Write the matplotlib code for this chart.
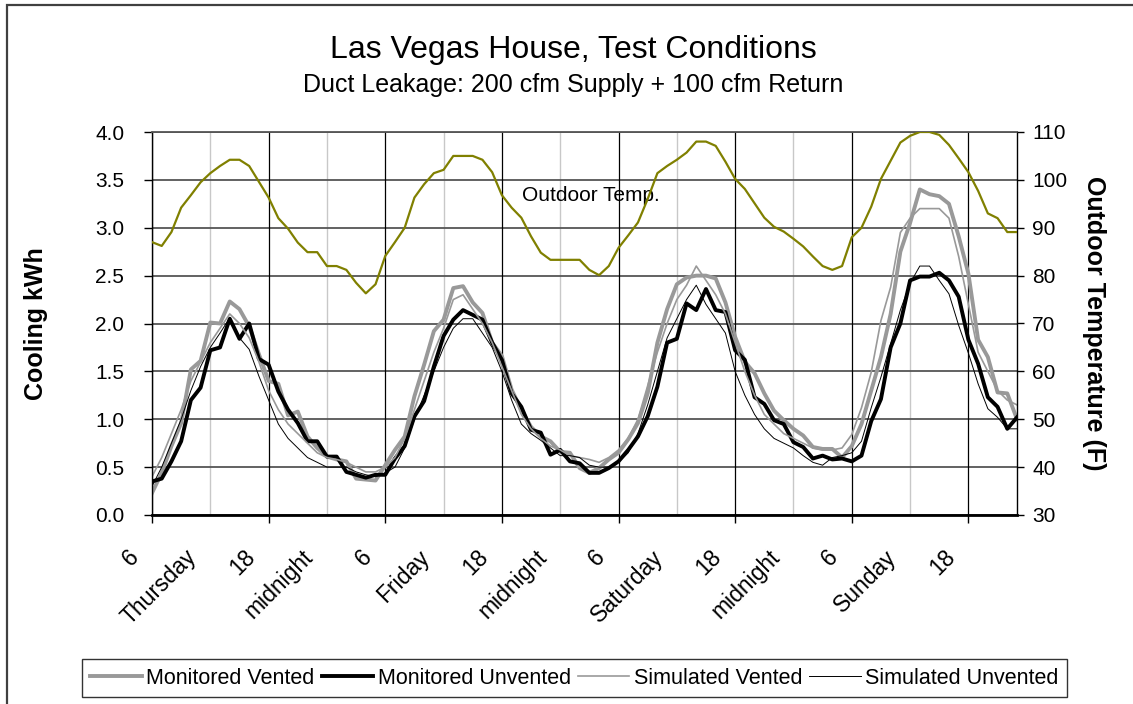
import matplotlib
matplotlib.use('Agg')
import matplotlib.pyplot as plt
from matplotlib.patches import Rectangle
from matplotlib.transforms import ScaledTranslation
import numpy as np

plt.rcParams['font.family'] = ['Liberation Sans', 'DejaVu Sans']

# hourly data, starting 6 am Thursday
hours = np.arange(90)
tick_labels = ['6', 'Thursday', '18', 'midnight', '6', 'Friday', '18', 'midnight',
               '6', 'Saturday', '18', 'midnight', '6', 'Sunday', '18']

outdoor_temp = [87.0, 86.2, 89.1, 94.2, 96.8, 99.5, 101.4, 102.9, 104.2, 104.2,
                102.9, 99.6, 96.3, 92.0, 89.8, 86.9, 84.9, 84.9, 82.0, 82.0,
                81.2, 78.5, 76.3, 78.2, 84.1, 87.0, 90.0, 96.3, 99.1, 101.4,
                102.1, 105.0, 105.0, 105.0, 104.2, 101.6, 96.8, 94.2, 92.1, 88.2,
                84.8, 83.3, 83.3, 83.3, 83.3, 81.2, 80.1, 82.0, 85.8, 88.4,
                91.1, 96.0, 101.4, 102.9, 104.2, 105.7, 108.0, 108.0, 107.1, 103.8,
                100.2, 98.1, 95.1, 92.1, 90.2, 89.2, 87.7, 86.1, 84.0, 82.0,
                81.2, 82.0, 88.0, 90.0, 94.4, 100.2, 104.0, 107.8, 109.2, 110.0,
                110.0, 109.4, 107.3, 104.5, 101.6, 97.7, 93.0, 92.0, 89.1, 89.1]

monitored_vented = [0.23, 0.44, 0.72, 0.96, 1.52, 1.61, 2.01, 2.00, 2.23, 2.15,
                    1.97, 1.68, 1.40, 1.37, 1.04, 1.08, 0.82, 0.70, 0.61, 0.58,
                    0.56, 0.38, 0.37, 0.36, 0.52, 0.68, 0.82, 1.24, 1.57, 1.92,
                    2.04, 2.37, 2.39, 2.22, 2.11, 1.80, 1.66, 1.31, 1.10, 0.92,
                    0.82, 0.77, 0.66, 0.65, 0.49, 0.44, 0.49, 0.58, 0.65, 0.79,
                    0.96, 1.27, 1.80, 2.15, 2.41, 2.48, 2.50, 2.50, 2.47, 2.22,
                    1.86, 1.60, 1.48, 1.27, 1.09, 0.99, 0.90, 0.83, 0.71, 0.69,
                    0.69, 0.60, 0.72, 0.95, 1.30, 1.65, 2.10, 2.75, 3.05, 3.40,
                    3.35, 3.33, 3.25, 2.91, 2.52, 1.83, 1.65, 1.28, 1.27, 1.00]

monitored_unvented = [0.35, 0.38, 0.56, 0.77, 1.20, 1.33, 1.72, 1.75, 2.05, 1.84,
                      2.00, 1.63, 1.57, 1.29, 1.10, 0.96, 0.77, 0.77, 0.61, 0.61,
                      0.45, 0.42, 0.39, 0.42, 0.42, 0.59, 0.72, 1.03, 1.19, 1.55,
                      1.87, 2.04, 2.14, 2.09, 2.04, 1.80, 1.62, 1.27, 1.13, 0.89,
                      0.86, 0.63, 0.68, 0.56, 0.54, 0.44, 0.44, 0.49, 0.56, 0.68,
                      0.82, 1.03, 1.34, 1.80, 1.84, 2.21, 2.14, 2.36, 2.14, 2.12,
                      1.72, 1.62, 1.23, 1.16, 0.99, 0.95, 0.76, 0.71, 0.59, 0.62,
                      0.58, 0.59, 0.56, 0.62, 0.98, 1.21, 1.75, 2.00, 2.45, 2.49,
                      2.49, 2.53, 2.45, 2.28, 1.83, 1.58, 1.23, 1.13, 0.90, 1.02]

simulated_vented = [0.40, 0.60, 0.85, 1.10, 1.40, 1.60, 1.80, 1.95, 2.10, 2.00,
                    1.85, 1.60, 1.30, 1.10, 0.95, 0.85, 0.75, 0.65, 0.60, 0.58,
                    0.55, 0.50, 0.45, 0.45, 0.50, 0.60, 0.80, 1.10, 1.40, 1.70,
                    1.95, 2.25, 2.30, 2.15, 2.00, 1.80, 1.55, 1.30, 1.05, 0.90,
                    0.80, 0.72, 0.68, 0.62, 0.60, 0.58, 0.55, 0.60, 0.68, 0.80,
                    1.00, 1.35, 1.70, 2.00, 2.25, 2.40, 2.60, 2.45, 2.30, 2.10,
                    1.80, 1.50, 1.25, 1.05, 0.95, 0.85, 0.80, 0.75, 0.70, 0.68,
                    0.68, 0.70, 0.84, 1.12, 1.49, 2.03, 2.38, 2.95, 3.10, 3.20,
                    3.20, 3.20, 3.10, 2.70, 2.20, 1.70, 1.50, 1.30, 1.20, 1.15]

simulated_unvented = [0.30, 0.50, 0.75, 1.00, 1.30, 1.55, 1.75, 1.90, 2.06, 1.85,
                      1.73, 1.45, 1.20, 0.95, 0.80, 0.70, 0.60, 0.55, 0.50, 0.50,
                      0.50, 0.45, 0.42, 0.40, 0.44, 0.50, 0.70, 1.00, 1.25, 1.50,
                      1.75, 1.95, 2.05, 2.05, 1.90, 1.75, 1.50, 1.20, 0.95, 0.85,
                      0.78, 0.70, 0.62, 0.62, 0.60, 0.52, 0.50, 0.50, 0.55, 0.65,
                      0.85, 1.15, 1.50, 1.85, 2.05, 2.25, 2.40, 2.20, 2.05, 1.90,
                      1.50, 1.25, 1.05, 0.90, 0.80, 0.75, 0.70, 0.62, 0.55, 0.52,
                      0.60, 0.62, 0.65, 0.77, 1.12, 1.44, 1.79, 2.14, 2.42, 2.60,
                      2.60, 2.45, 2.31, 1.98, 1.69, 1.37, 1.11, 1.02, 0.90, 0.90]

FS = 15

fig = plt.figure(figsize=(11.33, 7.04), dpi=100)
ax = fig.add_axes([152/1133, 1 - 515/704, 865/1133, 383/704])

# Outer chart frame (cropped at right and bottom)
fig.patches.append(Rectangle((7/1133, -0.1), 1.2, 1 - 5/704 + 0.1, transform=fig.transFigure,
                             fill=False, edgecolor='#404040', lw=1.6))

# Grid
ax.set_axisbelow(True)
ax.yaxis.grid(True, color='#555555', lw=1.3)
for h in range(6, 90, 12):
    ax.axvline(h, color='#c8c8c8', lw=1.0, zorder=0.5)
for h in range(0, 90, 12):
    ax.axvline(h, color='black', lw=0.9, zorder=0.6)

ax.plot(hours, monitored_vented, color='#999999', lw=2.8, label='Monitored Vented')
ax.plot(hours, monitored_unvented, color='black', lw=2.8, label='Monitored Unvented')
ax.plot(hours, simulated_vented, color='#999999', lw=1.2, label='Simulated Vented')
ax.plot(hours, simulated_unvented, color='black', lw=0.7, label='Simulated Unvented')

ax.set_xlim(0, 89)
ax.set_ylim(0, 4.0)
ax.set_yticks(np.arange(0, 4.01, 0.5))
ax.set_yticklabels(['%.1f' % v for v in np.arange(0, 4.01, 0.5)], fontsize=FS)
ax.tick_params(axis='y', length=6, width=1, direction='out', pad=14, colors='black')

ax.set_xticks(np.arange(0, 90, 6))
ax.set_xticklabels(tick_labels, fontsize=16.5, rotation=45, ha='right', va='top')
ax.tick_params(axis='x', which='major', length=0, pad=22)
ax.set_xticks(np.arange(0, 90, 12), minor=True)
ax.xaxis.remove_overlapping_locs = False
ax.tick_params(axis='x', which='minor', length=6, width=1, direction='out')
for lbl in ax.get_xticklabels():
    lbl.set_transform(lbl.get_transform() + ScaledTranslation(-0.09, 0, fig.dpi_scale_trans))

for side in ['left', 'right']:
    ax.spines[side].set_color('black')
    ax.spines[side].set_linewidth(1.0)
ax.spines['top'].set_color('#555555')
ax.spines['top'].set_linewidth(1.3)
ax.spines['bottom'].set_linewidth(2.0)

ax.set_ylabel('Cooling kWh', fontsize=18, fontweight='bold', labelpad=34)

# Outdoor temperature on secondary axis
ax2 = ax.twinx()
ax2.plot(hours, outdoor_temp, color='#808000', lw=1.6)
ax2.set_ylim(30, 110)
ax2.set_yticks(np.arange(30, 111, 10))
ax2.tick_params(axis='y', labelsize=FS, length=5, width=1, pad=6)
ax2.set_ylabel('Outdoor Temperature (F)', fontsize=18, fontweight='bold',
               rotation=270, labelpad=28)
for sp in ax2.spines.values():
    sp.set_visible(False)
ax.text(45.2, 3.34, 'Outdoor Temp.', fontsize=FS, ha='center', va='center')

fig.text(0.506, 1 - 50/704, 'Las Vegas House, Test Conditions', fontsize=23,
         ha='center', va='center')
fig.text(0.506, 1 - 85/704, 'Duct Leakage: 200 cfm Supply + 100 cfm Return', fontsize=18,
         ha='center', va='center')

leg = fig.legend(loc='center', bbox_to_anchor=(574.5/1133, 1 - 678/704), ncol=4,
                 fontsize=15.5, frameon=True, fancybox=False, edgecolor='black',
                 handlelength=2.4, columnspacing=0.33, handletextpad=0.2,
                 borderpad=0.4, borderaxespad=0)
leg.get_frame().set_linewidth(1.0)

fig.savefig('out.png', dpi=100)
